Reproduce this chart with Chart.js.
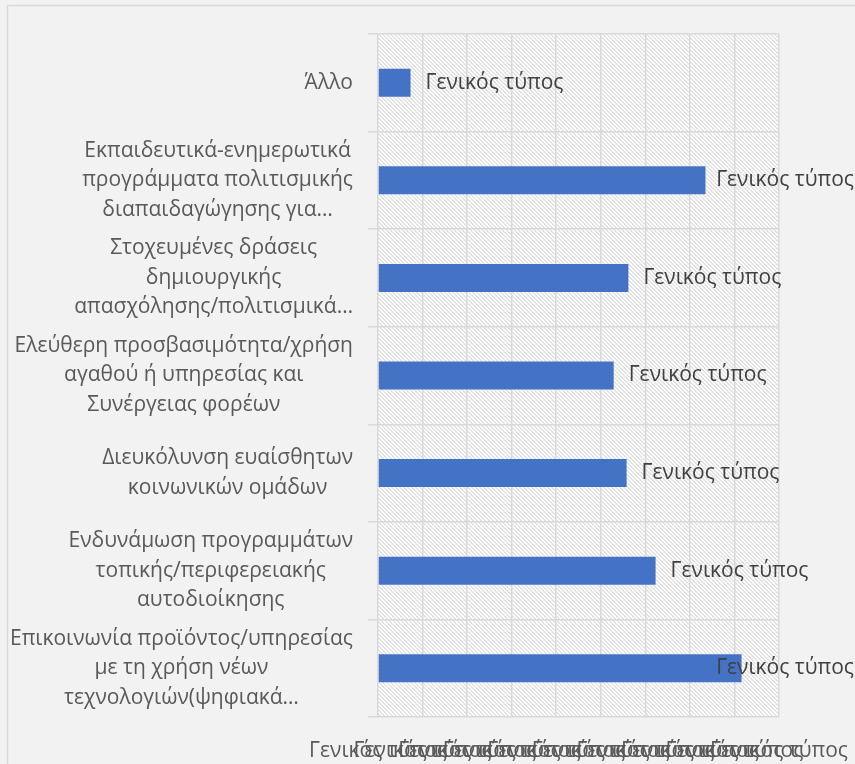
<!DOCTYPE html>
<html><head><meta charset="utf-8">
<script src="https://cdn.jsdelivr.net/npm/chart.js@4/dist/chart.umd.min.js"></script>
<style>html,body{margin:0;padding:0;background:#f2f2f2;}canvas{display:block}</style>
</head><body>
<canvas id="c" width="855" height="764"></canvas>
<script>
const categories = [
  ["Άλλο"],
  ["Εκπαιδευτικά-ενημερωτικά", "προγράμματα πολιτισμικής", "διαπαιδαγώγησης για…"],
  ["Στοχευμένες δράσεις", "δημιουργικής", "απασχόλησης/πολιτισμικά…"],
  ["Ελεύθερη προσβασιμότητα/χρήση", "αγαθού ή υπηρεσίας και", "Συνέργειας φορέων"],
  ["Διευκόλυνση ευαίσθητων", "κοινωνικών ομάδων"],
  ["Ενδυνάμωση προγραμμάτων", "τοπικής/περιφερειακής", "αυτοδιοίκησης"],
  ["Επικοινωνία προϊόντος/υπηρεσίας", "με τη χρήση νέων", "τεχνολογιών(ψηφιακά…"]
];
const values = [0.73, 7.35, 5.62, 5.29, 5.58, 6.23, 8.16];
const dataLabels = ["Γενικός τύπος", "Γενικός τύπος", "Γενικός τύπος", "Γενικός τύπος", "Γενικός τύπος", "Γενικός τύπος", "Γενικός τύπος"];
const xTickLabels = ["Γενικός τύπος", "Γενικός τύπος", "Γενικός τύπος", "Γενικός τύπος", "Γενικός τύπος", "Γενικός τύπος", "Γενικός τύπος", "Γενικός τύπος", "Γενικός τύπος", "Γενικός τύπος"];

const FONT = '"Open Sans", "Noto Sans", sans-serif';
const FSIZE = 21;

function makePattern(ctx) {
  const t = document.createElement('canvas');
  t.width = 4; t.height = 4;
  const c = t.getContext('2d');
  c.fillStyle = '#ffffff'; c.fillRect(0, 0, 4, 4);
  c.fillStyle = '#e2e2e2';
  for (let i = 0; i < 4; i++) { c.fillRect(i, i, 1, 1); c.fillRect((i + 1) % 4, i, 1, 1); }
  return ctx.createPattern(t, 'repeat');
}

const bgPlugin = {
  id: 'bg',
  beforeDraw(chart) {
    const ctx = chart.ctx, a = chart.chartArea;
    ctx.save();
    ctx.fillStyle = '#f2f2f2';
    ctx.fillRect(0, 0, chart.width, chart.height);
    ctx.strokeStyle = '#d9d9d9'; ctx.lineWidth = 1.5;
    ctx.beginPath(); ctx.moveTo(7.5, 900); ctx.lineTo(7.5, 5.5); ctx.lineTo(900, 5.5); ctx.stroke();
    ctx.fillStyle = makePattern(ctx);
    ctx.fillRect(a.left, a.top, a.right - a.left, a.bottom - a.top);
    ctx.restore();
  }
};

const yLabelPlugin = {
  id: 'ylabels',
  afterDraw(chart) {
    const ctx = chart.ctx, ys = chart.scales.y;
    ctx.save();
    ctx.font = FSIZE + 'px ' + FONT;
    ctx.fillStyle = '#595959';
    ctx.textAlign = 'center'; ctx.textBaseline = 'middle';
    const RIGHT = 353, LH = 29.5;
    categories.forEach((lines, i) => {
      const yc = ys.getPixelForValue(i);
      const maxW = Math.max(...lines.map(l => ctx.measureText(l).width));
      const cx = RIGHT - maxW / 2;
      lines.forEach((l, j) => ctx.fillText(l, cx, yc + (j - (lines.length - 1) / 2) * LH));
    });
    ctx.restore();
  }
};

const dataLabelPlugin = {
  id: 'dlabels',
  afterDatasetsDraw(chart) {
    const ctx = chart.ctx;
    const meta = chart.getDatasetMeta(0);
    ctx.save();
    ctx.font = FSIZE + 'px ' + FONT;
    ctx.fillStyle = '#404040';
    ctx.textAlign = 'left'; ctx.textBaseline = 'middle';
    meta.data.forEach((bar, i) => {
      const txt = dataLabels[i];
      const w = ctx.measureText(txt).width;
      let x = bar.x + 15;
      if (x + w > 854) x = 854 - w;
      ctx.fillText(txt, x, bar.y);
    });
    ctx.restore();
  }
};

function build() {
  new Chart(document.getElementById('c'), {
    type: 'bar',
    data: {
      labels: categories,
      datasets: [{ data: values, backgroundColor: '#4472C4', barPercentage: 0.287, categoryPercentage: 1 }]
    },
    options: {
      indexAxis: 'y',
      responsive: false,
      animation: false,
      layout: { padding: { left: 0, right: 76, top: 34, bottom: 0 } },
      plugins: { legend: { display: false }, tooltip: { enabled: false } },
      scales: {
        x: {
          type: 'linear', min: 0, max: 9, position: 'bottom',
          ticks: { stepSize: 1, autoSkip: false, maxRotation: 0, minRotation: 0, padding: 21,
            color: '#595959', font: { family: FONT, size: FSIZE },
            callback: (v, i) => xTickLabels[i] },
          grid: { color: '#d9d9d9', lineWidth: 1.5, drawTicks: false },
          border: { display: false },
          afterFit: s => { s.height = 47; s.paddingLeft = 0; s.paddingRight = 0; }
        },
        y: {
          type: 'category',
          grid: { color: '#d9d9d9', lineWidth: 1.5, tickLength: 10, offset: true },
          ticks: { display: false },
          border: { display: false },
          afterFit: s => { s.width = 378; }
        }
      }
    },
    plugins: [bgPlugin, yLabelPlugin, dataLabelPlugin]
  });
}
if (document.fonts && document.fonts.load) {
  document.fonts.load(FSIZE + 'px "Open Sans"').then(build, build);
} else build();
</script>
</body></html>
